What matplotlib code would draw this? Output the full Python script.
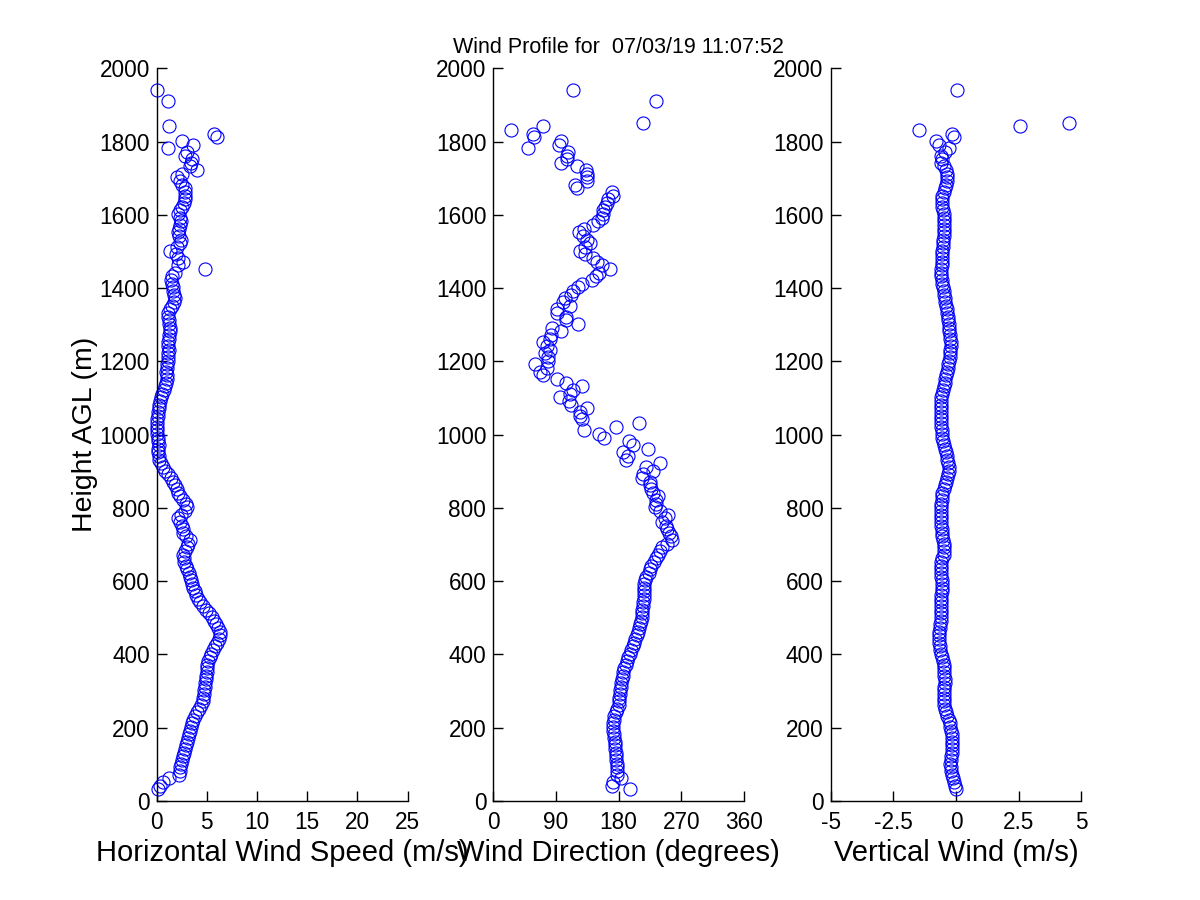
import numpy as np
import matplotlib
matplotlib.use("Agg")
import matplotlib.pyplot as plt

nan = np.nan

# range gates (m AGL)
heights = np.arange(32, 1943, 10)

# Horizontal wind speed (m/s), from 32 m upward
speed = [
    0.1, 0.3, 0.6, 1.25, 2.25, 2.3, 2.35, 2.4, 2.5, 2.65,
    2.7, 2.8, 2.9, 3.0, 3.1, 3.2, 3.3, 3.4, 3.55, 3.65,
    3.85, 4.05, 4.2, 4.4, 4.6, 4.65, 4.7, 4.75, 4.8, 4.85,
    4.9, 4.95, 5.0, 5.0, 5.05, 5.15, 5.3, 5.45, 5.6, 5.8,
    6.0, 6.2, 6.3, 6.3, 6.15, 5.95, 5.75, 5.5, 5.2, 4.9,
    4.6, 4.35, 4.1, 3.9, 3.8, 3.65, 3.5, 3.4, 3.3, 3.2,
    3.05, 2.95, 2.75, 2.7, 2.65, 2.8, 3.0, 3.1, 3.3, 2.9,
    2.65, 2.6, 2.5, 2.3, 2.15, 2.4, 2.8, 3.0, 2.9, 2.65,
    2.3, 2.1, 2.0, 1.8, 1.6, 1.4, 1.15, 0.8, 0.6, 0.4,
    0.25, 0.2, 0.15, 0.15, 0.2, 0.15, 0.1, 0.05, 0.0, 0.0,
    0.05, 0.05, 0.1, 0.15, 0.2, 0.25, 0.35, 0.45, 0.55, 0.7,
    0.85, 0.9, 1.0, 1.0, 0.95, 1.0, 1.05, 1.1, 1.15, 1.15,
    1.2, 1.15, 1.15, 1.2, 1.25, 1.3, 1.3, 1.25, 1.2, 1.15,
    1.15, 1.3, 1.5, 1.7, 1.8, 1.7, 1.65, 1.6, 1.5, 1.45,
    1.5, 1.8, 4.8, 2.1, 2.6, 2.15, 1.9, 1.3, 2.0, 2.3,
    2.4, 2.2, 2.15, 2.2, 2.3, 2.4, 2.3, 2.15, 2.3, 2.5,
    2.7, 2.8, 2.8, 2.85, 2.8, 2.5, 2.3, 2.0, 2.5, 4.05,
    3.3, 3.4, 3.5, 2.8, 3.0, 1.15, 3.6, 2.5, 6.0, 5.7,
    nan, 1.2, nan, nan, nan, nan, nan, nan, 1.15, nan,
    nan, 0.0,
]

# Wind direction (degrees)
direction = [
    197, 170, 172, 183, 178, 177, 177, 177, 176, 176,
    176, 175, 175, 174.5, 174, 173, 172, 172, 172, 173,
    174, 176, 178, 180, 181, 181, 182, 182, 183, 184,
    185, 186, 187, 188, 190, 192, 194, 196, 198, 200,
    202, 204, 206, 208, 209, 211, 212, 213, 214, 214,
    215, 215, 216, 216, 216, 217, 217, 218, 220, 223,
    225, 227, 231, 234, 237, 240, 242, 250, 256, 255,
    253, 250, 248, 243, 246, 251, 239, 232, 233, 234,
    236.7, 230, 227, 225, 225, 213, 215, 229.5, 220, 239,
    191, 193.6, 186.5, 222, 201, 195, 159, 152, 130, 176,
    209, 127, 125, 125, 134, 112, 109, 96, 110, 114,
    128, 105, 91, 72, 67, 76.6, 60, 79, 79, 74,
    81, 76.6, 72, 81, 82.8, 98, 85, 122, 104, 104,
    91, 91, 110, 100, 103, 112, 115, 122, 128, 142.5,
    148, 152, 167, 155.5, 149, 143.4, 131.5, 124, 132, 138.7,
    134, 129, 123, 130, 143.4, 150.6, 155.5, 157, 158, 160,
    163, 165, 172, 170, 120.5, 117, 135, 134, 134, 133,
    119.6, 98, 106, 106, 107.6, 50, 95, 97, 59, 56.5,
    25.4, 72, 214.7, nan, nan, nan, nan, nan, 233, nan,
    nan, 114.7,
]

# Vertical wind (m/s)
vertical = [
    0.0, -0.05, -0.1, -0.12, -0.15, -0.2, -0.22, -0.23, -0.22, -0.2,
    -0.18, -0.17, -0.18, -0.17, -0.15, -0.17, -0.2, -0.23, -0.25, -0.28,
    -0.35, -0.4, -0.45, -0.47, -0.48, -0.47, -0.48, -0.48, -0.47, -0.46,
    -0.46, -0.47, -0.48, -0.5, -0.5, -0.53, -0.57, -0.6, -0.62, -0.64,
    -0.66, -0.68, -0.68, -0.66, -0.63, -0.62, -0.61, -0.6, -0.59, -0.59,
    -0.58, -0.58, -0.59, -0.58, -0.57, -0.56, -0.56, -0.57, -0.58, -0.6,
    -0.6, -0.6, -0.58, -0.55, -0.5, -0.47, -0.48, -0.5, -0.53, -0.55,
    -0.56, -0.57, -0.58, -0.6, -0.6, -0.6, -0.59, -0.59, -0.58, -0.57,
    -0.55, -0.54, -0.5, -0.45, -0.42, -0.38, -0.33, -0.3, -0.3, -0.32,
    -0.35, -0.38, -0.42, -0.45, -0.48, -0.52, -0.55, -0.56, -0.57, -0.58,
    -0.59, -0.6, -0.6, -0.61, -0.6, -0.6, -0.61, -0.6, -0.57, -0.53,
    -0.48, -0.45, -0.43, -0.4, -0.37, -0.34, -0.31, -0.29, -0.26, -0.24,
    -0.23, -0.22, -0.22, -0.23, -0.25, -0.27, -0.29, -0.3, -0.31, -0.33,
    -0.35, -0.37, -0.4, -0.43, -0.45, -0.47, -0.5, -0.52, -0.55, -0.57,
    -0.59, -0.6, -0.58, -0.57, -0.56, -0.55, -0.54, -0.54, -0.53, -0.52,
    -0.51, -0.5, -0.49, -0.48, -0.48, -0.47, -0.48, -0.5, -0.52, -0.54,
    -0.56, -0.57, -0.55, -0.5, -0.45, -0.4, -0.37, -0.35, -0.36, -0.4,
    -0.5, -0.58, -0.55, -0.6, -0.45, -0.27, -0.67, -0.8, -0.07, -0.17,
    -1.47, 2.57, 4.5, nan, nan, nan, nan, nan, nan, nan,
    nan, 0.04,
]

title_text = "Wind Profile for  07/03/19 11:07:52"
xlabels = ["Horizontal Wind Speed (m/s)", "Wind Direction (degrees)", "Vertical Wind (m/s)"]
ylabel = "Height AGL (m)"
xlims = [(0, 25), (0, 360), (-5, 5)]
xticks = [[0, 5, 10, 15, 20, 25], [0, 90, 180, 270, 360], [-5, -2.5, 0, 2.5, 5]]
xticklabels = [["0", "5", "10", "15", "20", "25"],
               ["0", "90", "180", "270", "360"],
               ["-5", "-2.5", "0", "2.5", "5"]]
yticks = list(range(0, 2001, 200))

plt.rcParams['font.family'] = ['Liberation Sans', 'DejaVu Sans']

fig = plt.figure(figsize=(12, 9), dpi=100)
lefts = [0.1306, 0.4110, 0.6922]
series = [speed, direction, vertical]
axes = []
for i in range(3):
    ax = fig.add_axes([lefts[i], 0.11, 0.2090, 0.8141])
    ax.plot(series[i], heights, linestyle='none', marker='o', markersize=9.4,
            markerfacecolor='none', markeredgecolor='#0000ff', markeredgewidth=0.8,
            clip_on=False)
    ax.set_xlim(*xlims[i])
    ax.set_ylim(0, 2000)
    ax.set_xticks(xticks[i])
    ax.set_xticklabels(xticklabels[i])
    ax.set_yticks(yticks)
    ax.spines['top'].set_visible(False)
    ax.spines['right'].set_visible(False)
    for s in ('left', 'bottom'):
        ax.spines[s].set_linewidth(1.0)
    ax.tick_params(direction='in', length=7, width=1.0, labelsize=16.3, pad=5,
                   top=False, right=False)
    ax.tick_params(axis='x', pad=7)
    ax.set_xlabel(xlabels[i], fontsize=21, labelpad=4)
    axes.append(ax)

axes[0].set_ylabel(ylabel, fontsize=20.5, labelpad=1)
axes[1].set_title(title_text, fontsize=15.5, pad=11)

fig.savefig("out.png", dpi=100)
